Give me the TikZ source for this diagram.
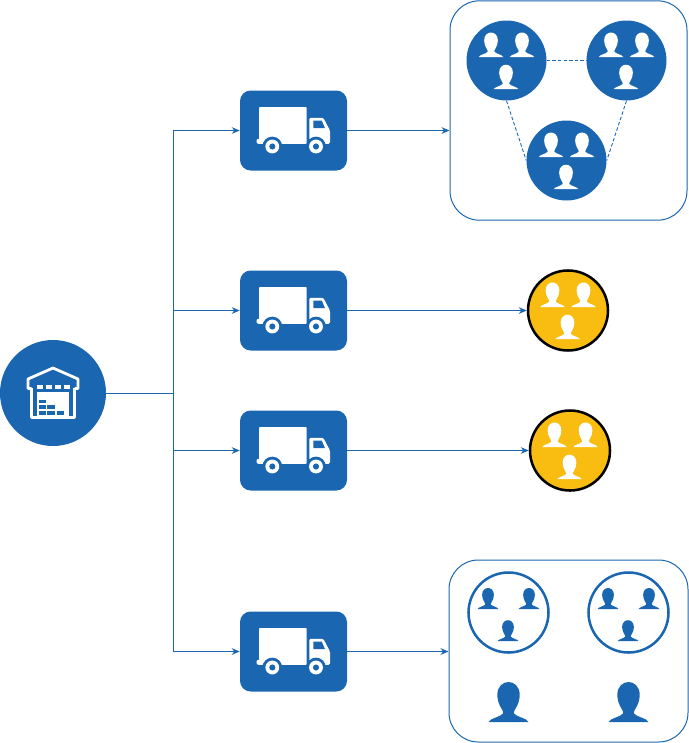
\documentclass[tikz,border=0pt]{standalone}
\usetikzlibrary{arrows.meta}
\definecolor{depotblue}{HTML}{1B66B1}
\definecolor{clientyellow}{HTML}{F8BD10}
\tikzset{
  link/.style={draw=depotblue, line width=0.75pt, -{Stealth[length=6pt,width=5pt]}},
  peer/.style={draw=depotblue, line width=0.65pt, dash pattern=on 2.6pt off 1.6pt},
  depot/.style={circle, fill=depotblue, minimum size=79.5pt, inner sep=0pt},
  truckbox/.style={rectangle, rounded corners=8pt, fill=depotblue, minimum width=80.25pt, minimum height=60pt, inner sep=0pt},
  groupbox/.style={rectangle, rounded corners=22pt, draw=depotblue, line width=0.75pt, inner sep=0pt},
  teamdot/.style={circle, fill=depotblue, minimum size=60pt, inner sep=0pt},
  yellowdot/.style={circle, fill=clientyellow, draw=black, line width=1.9pt, minimum size=60pt, inner sep=0pt},
  ringdot/.style={circle, fill=white, draw=depotblue, line width=1.9pt, minimum size=60pt, inner sep=0pt},
  pics/person/.style={code={
    \fill[#1] (-.5,0) .. controls (-.46,-.1) and (-.2,-.12) .. (-.13,-.22)
      .. controls (-.12,-.3) and (-.28,-.42) .. (-.28,-.68)
      .. controls (-.28,-.9) and (-.13,-1) .. (0,-1)
      .. controls (.13,-1) and (.28,-.9) .. (.28,-.68)
      .. controls (.28,-.42) and (.12,-.3) .. (.13,-.22)
      .. controls (.2,-.12) and (.46,-.1) .. (.5,0) -- cycle;
  }},
  % colour, size of one person, sideways offset of the upper two
  pics/crowd/.style n args={3}{code={
    \pic[scale=#2] at (-#3,-3.5) {person=#1};
    \pic[scale=#2] at (#3,-3.5) {person=#1};
    \pic[scale=#2] at (-0.5,28.7) {person=#1};
  }},
  pics/truck/.style={code={
    \fill[white, rounded corners=0.5pt] (-34.5,-23.3) -- (13.2,-23.3) -- (13.2,13.3) -- (-34.5,13.3) -- cycle;
    \fill[white, rounded corners=1.5pt] (-37,8.3) rectangle (-28,13.3);
    \fill[white, rounded corners=1pt] (15.8,-12.7) -- (29.8,-12.7) -- (36.5,0) -- (36.5,13.3) -- (15.8,13.3) -- cycle;
    \fill[depotblue] (19.8,-10) -- (28.2,-10) -- (31.5,-2.3) -- (19.8,-2.3) -- cycle;
    \foreach \wx in {-21.2,22.5} {
      \fill[depotblue] (\wx,16) circle[radius=7.4pt];
      \fill[white] (\wx,16) circle[radius=5.2pt];
      \fill[depotblue] (\wx,16) circle[radius=2.3pt];
    }
  }},
  pics/warehouse/.style={code={
    \draw[white, line width=2.1pt, line join=round] (-21.5,-4.5) -- (-25,-4.5) -- (-25,-14) -- (0,-25) -- (25,-14) -- (25,-4.5) -- (21.5,-4.5);
    \draw[white, line width=2.1pt, line join=round] (-21.5,-5.5) -- (-21.5,24.5) -- (21.5,24.5) -- (21.5,-5.5);
    \foreach \dx in {-16.5,-7.5,1.5,10.5} {
      \fill[white] (\dx,-8) rectangle (\dx+6.5,-4);
    }
    \fill[white] (-16.3,-1.3) rectangle (16.3,23);
    % stacked crates
    \foreach \ax/\ay/\bx in {-13.7/6.7/-7,-13.7/12/-7,-5.7/12/2,-13.7/18/-7,-5.7/18/2,3.7/18/11} {
      \fill[depotblue] (\ax,\ay) rectangle (\bx,\ay+3.7);
    }
  }}
}
\begin{document}
\begin{tikzpicture}[x=0.75pt, y=-0.75pt]
\useasboundingbox (0,0) rectangle (689,743);

% Depot
\node[depot] (depot) at (53,393) {};
\pic at (depot.center) {warehouse};
\coordinate (joint) at (173,393);

% Trucks
\foreach \name/\y in {truckA/130.5,truckB/310.5,truckC/450.5,truckD/651.5} {
  \node[truckbox] (\name) at (293.5,\y) {};
  \pic at (\name.center) {truck};
}

% Upper group
\node[groupbox, minimum width=177.75pt, minimum height=164.5pt] (groupA) at (568.5,110.5) {};
\foreach \name/\x/\y in {teamA/506.5/60.5,teamB/626.5/60.5,teamC/566.5/160.5} {
  \node[teamdot] (\name) at (\x,\y) {};
  \pic at (\name.center) {crowd={white}{24.5}{15.5}};
}
\draw[peer] (teamA.east) -- (teamB.west);
\draw[peer] (teamA.south) -- (teamC.west);
\draw[peer] (teamB.south) -- (teamC.east);

% Single clients
\node[yellowdot] (clientA) at (568,310.5) {};
\pic at (clientA.center) {crowd={white}{24.5}{15.5}};
\node[yellowdot] (clientB) at (570,450.5) {};
\pic at (clientB.center) {crowd={white}{24.5}{15.5}};

% Lower group
\node[groupbox, minimum width=179.25pt, minimum height=136.5pt] (groupB) at (568.5,651) {};
\foreach \name/\x in {ringA/508.5,ringB/628.5} {
  \node[ringdot] (\name) at (\x,612.5) {};
  \pic at (\name.center) {crowd={depotblue}{21}{20.5}};
  \pic[scale=40] at (\x,722) {person=depotblue};
}

% Connectors
\draw[depotblue, line width=0.75pt] (depot.east) -- (joint);
\foreach \name in {truckA,truckB,truckC,truckD} {
  \draw[link] (joint) |- (\name.west);
}
\draw[link] (truckA.east) -- (truckA.east -| groupA.west);
\draw[link] (truckB.east) -- (clientA.west);
\draw[link] (truckC.east) -- (clientB.west);
\draw[link] (truckD.east) -- (truckD.east -| groupB.west);
\end{tikzpicture}
\end{document}
